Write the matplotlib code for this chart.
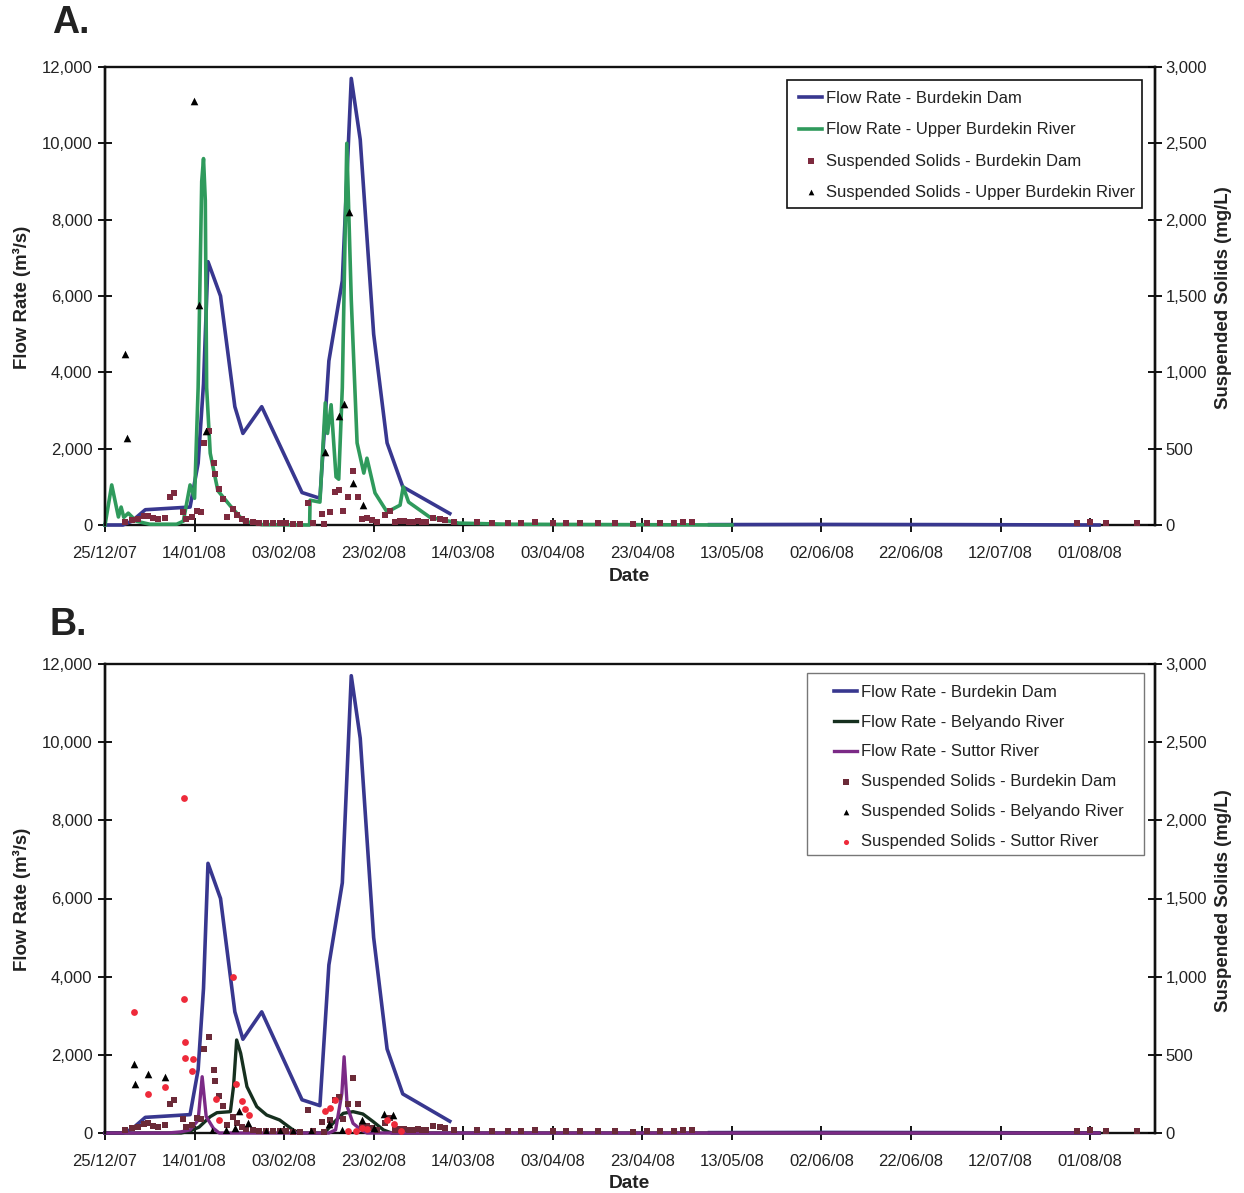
import matplotlib
matplotlib.use("Agg")
import matplotlib.pyplot as plt
import numpy as np

plt.rcParams['font.family'] = ['Liberation Sans', 'DejaVu Sans']

date_labels = ['25/12/07','14/01/08','03/02/08','23/02/08','14/03/08','03/04/08','23/04/08',
               '13/05/08','02/06/08','22/06/08','12/07/08','01/08/08']
flow_ticks = [0,2000,4000,6000,8000,10000,12000]
ss_ticks = [0,500,1000,1500,2000,2500,3000]

dam_days = [0,4,6,7.5,9,19,20.8,22,23,25.8,29,30.8,35,44,48,50,53,55,57,60,63,66.5,77,np.nan,135,160,190,222]
dam_flow = [0,0,100,250,400,470,1620,3700,6900,6000,3100,2400,3100,850,700,4300,6400,11700,10100,5000,2150,1000,300,np.nan,10,15,10,0]

upper_days = [0,1.5,3,3.6,4.2,5.2,7,10,16,17.5,19,20,20.8,21.6,22,22.4,22.7,23.5,25.2,28,31,35,45.7,45.8,48,49.2,49.7,50.5,51.6,52.2,53,54,55,56.3,57.8,58.5,60.3,63,65.9,66.6,67.8,72.6,79,90,140]
upper_flow = [0,1050,210,470,200,310,100,20,20,100,1050,700,3600,9000,9600,8500,3600,1880,900,500,100,10,0,650,600,3200,2400,3150,1260,1200,3600,10000,5900,2150,1360,1750,840,340,520,1000,600,200,50,20,0]

belyando_days = [0,17,19,21,23.5,25,28,28.7,29.4,30.3,31.7,33.9,36.1,39,42,43.5,49,50.9,53.2,55.4,57.6,59.9,62.2,64,222]
belyando_flow = [0,0,50,150,418,520,546,1186,2380,2040,1186,674,460,333,77,0,0,247,503,546,486,290,77,0,0]

suttor_days = [0,14,17,19,20.8,21.7,22.6,24.2,25.5,50,51.5,52.9,53.4,54.1,55.4,57.2,58.5,222]
suttor_flow = [0,0,30,80,330,1440,420,120,0,0,80,1015,1950,674,247,80,0,0]

dam_ss_days = [4.5,6,7.4,8.6,9.7,10.8,11.9,13.4,14.5,15.3,17.4,18.2,19.4,20.5,21.4,22.2,23.3,24.3,24.6,25.5,26.3,27.2,28.5,29.4,30.5,
               31.5,33,34.5,36,37.5,39,40.5,42,43.5,45.4,46.5,48.4,49,50.3,51.4,52.2,53.2,54.2,55.3,56.4,57.3,58.5,59.6,60.7,62.5,63.7,64.8,
               65.8,66.8,67.8,68.8,69.8,70.8,71.8,73.3,74.8,76,78,83,86.5,90,93,96,100,103,106,110,114,118,121,124,127,129,131,217,220,223.5,230.5]
dam_ss = [22,33,39,57,61,44,39,48,185,212,87,39,50,94,87,535,616,404,334,234,170,50,105,65,37,
          25,18,15,12,12,10,10,8,8,146,10,70,5,83,214,229,90,183,354,183,39,44,33,22,65,94,22,
          25,28,22,20,25,20,22,44,39,33,20,20,15,15,12,18,12,15,10,14,10,8,10,15,12,18,20,10,22,12,10]

upper_ss_days = [5.0,4.4,19.9,20.9,22.6,49.1,52.3,54.4,53.4,55.4,57.6]
upper_ss = [570,1120,2780,1440,615,480,715,2050,790,275,130]

belyando_ss_days = [6.4,6.6,9.5,13.5,24,27,29,30,32,36,39,42,46,50,53,57.5,60,62.2,64.4]
belyando_ss = [441,311,375,356,15,20,30,143,62,15,15,15,15,60,20,80,30,122,115]

suttor_ss_days = [6.4,9.5,13.5,17.6,17.7,17.9,17.9,19.4,19.6,24.8,25.5,28.5,29.3,30.5,31.3,32.2,
                  49.1,50.3,51.4,54.2,56,57.5,58.5,63,64.6,66]
suttor_ss = [776,250,296,2143,857,580,478,399,474,215,83,1000,314,207,154,115,
             143,158,211,10,10,30,25,80,60,10]

BLUE = '#38378f'
GREEN = '#2f9a5c'
SQ = '#7d2a3e'
BLACK2 = '#16301f'
PURPLE = '#7b2a86'
RED = '#ee2a3a'
FS = 12
BIG = 13.4
W, H = 1244, 1193


def make_axes(top, bottom):
    ax = fig.add_axes([105/W, 1-bottom/H, 1050/W, (bottom-top)/H])
    ax.set_xlim(0, 234.5)
    ax.set_ylim(0, 12000)
    ax.set_xticks(np.arange(len(date_labels))*20)
    ax.set_xticklabels(date_labels, fontsize=FS, color='#222222')
    ax.set_yticks(flow_ticks)
    ax.set_yticklabels([f'{v:,}' for v in flow_ticks], fontsize=FS, color='#222222')
    ax.tick_params(axis='y', direction='inout', length=10, width=1.3, pad=4)
    ax.tick_params(axis='x', direction='inout', length=10, width=1.3, pad=10)
    ax2 = ax.twinx()
    ax2.set_ylim(0, 3000)
    ax2.set_yticks(ss_ticks)
    ax2.set_yticklabels([f'{v:,}' for v in ss_ticks], fontsize=FS, color='#222222')
    ax2.tick_params(axis='y', direction='inout', length=10, width=1.3, pad=2.5)
    for a in (ax, ax2):
        for s in a.spines.values():
            s.set_linewidth(1.7)
            s.set_color('#111111')
    ax2.spines['bottom'].set_visible(False)
    ax2.spines['top'].set_visible(False)
    return ax, ax2


def labels(top, bottom, date_y):
    mid = (top+bottom)/2
    fig.text(22/W, 1-(mid+1)/H, 'Flow Rate (m³/s)', rotation=90, ha='center', va='center',
             fontsize=BIG, fontweight='bold', color='#222222')
    fig.text(1224/W, 1-(mid+2)/H, 'Suspended Solids (mg/L)', rotation=90, ha='center', va='center',
             fontsize=BIG, fontweight='bold', color='#222222')
    fig.text(629/W, 1-date_y/H, 'Date', ha='center', va='center', fontsize=BIG+0.4,
             fontweight='bold', color='#222222')


def legend(handles, x0, y0, x1, y1, spacing, edge, lw, pad_left, dy):
    fig.patches.append(plt.Rectangle((x0/W, 1-y1/H), (x1-x0)/W, (y1-y0)/H, transform=fig.transFigure,
                                     fc='white', ec=edge, lw=lw, zorder=5))
    leg = fig.legend(handles=handles, loc='upper left', bbox_to_anchor=(pad_left/W, 1-(y0+dy)/H),
                     frameon=False, fontsize=FS, labelspacing=spacing, handlelength=1.35,
                     handletextpad=0.25, borderpad=0.3, markerscale=0.75, labelcolor='#222222')
    leg.set_zorder(6)


def flow(a, x, y, color, lw, label):
    line, = a.plot(x, y, color=color, lw=lw, label=label, clip_on=False, zorder=3)
    return line


fig = plt.figure(figsize=(W/100, H/100), dpi=100)

# Panel A
ax, ax2 = make_axes(67, 525)
l1 = flow(ax, dam_days, dam_flow, BLUE, 2.6, 'Flow Rate - Burdekin Dam')
l2 = flow(ax, upper_days, upper_flow, GREEN, 2.6, 'Flow Rate - Upper Burdekin River')
s1 = ax2.scatter(dam_ss_days, dam_ss, marker='s', s=24, color=SQ, lw=0, label='Suspended Solids - Burdekin Dam', zorder=3, clip_on=False)
s2 = ax2.scatter(upper_ss_days, upper_ss, marker='^', s=30, color='black', lw=0, label='Suspended Solids - Upper Burdekin River', zorder=4)
labels(67, 525, 577)
legend([l1, l2, s1, s2], 787, 80, 1142, 208, 0.966, '#111111', 1.2, 786, -2)
fig.text(52/W, 1-23/H, 'A.', fontsize=27, fontweight='bold', ha='left', va='center', color='#222222')

# Panel B
bx, bx2 = make_axes(664, 1133)
m1 = flow(bx, dam_days, dam_flow, BLUE, 2.6, 'Flow Rate - Burdekin Dam')
m2 = flow(bx, belyando_days, belyando_flow, BLACK2, 2.4, 'Flow Rate - Belyando River')
m3 = flow(bx, suttor_days, suttor_flow, PURPLE, 2.4, 'Flow Rate - Suttor River')
t1 = bx2.scatter(dam_ss_days, dam_ss, marker='s', s=24, color='#6b2a38', lw=0, label='Suspended Solids - Burdekin Dam', zorder=3, clip_on=False)
t2 = bx2.scatter(belyando_ss_days, belyando_ss, marker='^', s=30, color='black', lw=0, label='Suspended Solids - Belyando River', zorder=4)
t3 = bx2.scatter(suttor_ss_days, suttor_ss, marker='o', s=24, color=RED, lw=0, label='Suspended Solids - Suttor River', zorder=5, clip_on=False)
labels(664, 1133, 1184)
legend([m1, m2, m3, t1, t2, t3], 807, 673, 1144, 855, 0.89, '#777777', 1.0, 821, -1.5)
fig.text(50/W, 1-625/H, 'B.', fontsize=27, fontweight='bold', ha='left', va='center', color='#222222')

fig.savefig('out.png', dpi=100)
